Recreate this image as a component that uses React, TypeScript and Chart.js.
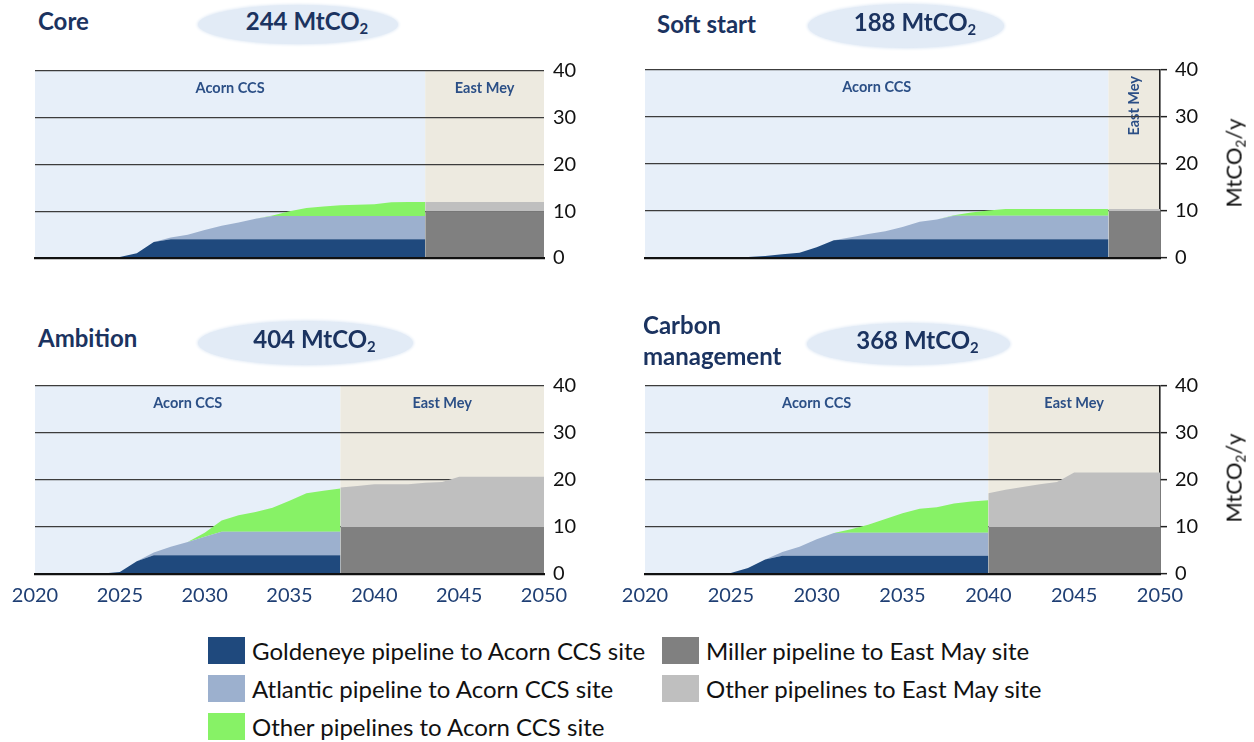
import React, { useEffect, useRef } from "react";
import { Chart, registerables } from "chart.js";

Chart.register(...registerables);

// ---------------- data ----------------
const SERIES_NAMES = [
  "Goldeneye pipeline to Acorn CCS site",
  "Atlantic pipeline to Acorn CCS site",
  "Other pipelines to Acorn CCS site",
  "Miller pipeline to East May site",
  "Other pipelines to East May site",
];
const SERIES_COLORS = ["#1F497D", "#9CB0CE", "#87F266", "#808080", "#BFBFBF"];
const REGION_NAMES = ["Acorn CCS", "East Mey"];
const PANEL_TITLES = [["Core"], ["Soft start"], ["Ambition"], ["Carbon", "management"]];
const PANEL_TOTALS = [244, 188, 404, 368];
const ACORN_END_YEAR = [2043, 2047, 2038, 2040];
const X_TICKS = [2020, 2025, 2030, 2035, 2040, 2045, 2050];
const Y_TICKS = [0, 10, 20, 30, 40];
const Y_TITLE = "MtCO";

const YEARS = [
  2020, 2021, 2022, 2023, 2024, 2025, 2026, 2027, 2028, 2029, 2030,
  2031, 2032, 2033, 2034, 2035, 2036, 2037, 2038, 2039, 2040,
  2041, 2042, 2043, 2044, 2045, 2046, 2047, 2048, 2049, 2050,
];

// Core: Acorn 2020-2043, East Mey 2043-2050
const coreGoldeneye = [0, 0, 0, 0, 0.1, 0.2, 1.0, 3.4, 4, 4, 4, 4, 4, 4, 4, 4, 4, 4, 4, 4, 4, 4, 4, 4];
const coreAtlantic = [0, 0, 0, 0, 0, 0, 0, 0, 0.4, 1.0, 2.0, 2.9, 3.6, 4.4, 5.0, 5, 5, 5, 5, 5, 5, 5, 5, 5];
const coreOtherAcorn = [0, 0, 0, 0, 0, 0, 0, 0, 0, 0, 0, 0, 0, 0, 0.1, 1.0, 1.7, 2.0, 2.3, 2.4, 2.5, 2.9, 3.0, 3.0];
const coreMiller = [10, 10, 10, 10, 10, 10, 10, 10];
const coreOtherEast = [2, 2, 2, 2, 2, 2, 2, 2];

// Soft start: Acorn 2020-2047, East Mey 2047-2050
const softGoldeneye = [0, 0, 0, 0, 0.1, 0.1, 0.2, 0.4, 0.8, 1.1, 2.3, 3.8, 4, 4, 4, 4, 4, 4, 4, 4, 4, 4, 4, 4, 4, 4, 4, 4];
const softAtlantic = [0, 0, 0, 0, 0, 0, 0, 0, 0, 0, 0, 0, 0.4, 1.1, 1.7, 2.6, 3.7, 4.2, 5.0, 5, 5, 5, 5, 5, 5, 5, 5, 5];
const softOtherAcorn = [0, 0, 0, 0, 0, 0, 0, 0, 0, 0, 0, 0, 0, 0, 0, 0, 0, 0, 0.1, 0.7, 1.1, 1.4, 1.4, 1.4, 1.4, 1.4, 1.4, 1.4];
const softMiller = [10, 10, 10, 10];
const softOtherEast = [0.4, 0.4, 0.4, 0.4];

// Ambition: Acorn 2020-2038, East Mey 2038-2050
const ambGoldeneye = [0, 0, 0, 0, 0.1, 0.4, 2.7, 4, 4, 4, 4, 4, 4, 4, 4, 4, 4, 4, 4];
const ambAtlantic = [0, 0, 0, 0, 0, 0, 0, 0.6, 1.8, 2.8, 3.9, 5, 5, 5, 5, 5, 5, 5, 5];
const ambOtherAcorn = [0, 0, 0, 0, 0, 0, 0, 0, 0, 0, 0.9, 2.4, 3.5, 4.2, 5.1, 6.6, 8.2, 8.7, 9.2];
const ambMiller = [10, 10, 10, 10, 10, 10, 10, 10, 10, 10, 10, 10, 10];
const ambOtherEast = [8.4, 8.7, 9.1, 9.1, 9.1, 9.4, 9.6, 10.7, 10.7, 10.7, 10.7, 10.7, 10.7];

// Carbon management: Acorn 2020-2040, East Mey 2040-2050
const cmGoldeneye = [0, 0, 0, 0, 0.05, 0.2, 1.3, 3.1, 3.9, 3.9, 3.9, 3.9, 3.9, 3.9, 3.9, 3.9, 3.9, 3.9, 3.9, 3.9, 3.9];
const cmAtlantic = [0, 0, 0, 0, 0, 0, 0, 0, 0.8, 1.9, 3.5, 4.8, 4.9, 4.9, 4.9, 4.9, 4.9, 4.9, 4.9, 4.9, 4.9];
const cmOtherAcorn = [0, 0, 0, 0, 0, 0, 0, 0, 0, 0, 0, 0, 0.7, 1.7, 2.9, 4.1, 5.1, 5.4, 6.2, 6.6, 6.9];
const cmMiller = [10, 10, 10, 10, 10, 10, 10, 10, 10, 10, 10];
const cmOtherEast = [7.2, 7.9, 8.5, 9.1, 9.6, 11.6, 11.6, 11.6, 11.6, 11.6, 11.6];

const PANEL_SERIES = [
  [coreGoldeneye, coreAtlantic, coreOtherAcorn, coreMiller, coreOtherEast],
  [softGoldeneye, softAtlantic, softOtherAcorn, softMiller, softOtherEast],
  [ambGoldeneye, ambAtlantic, ambOtherAcorn, ambMiller, ambOtherEast],
  [cmGoldeneye, cmAtlantic, cmOtherAcorn, cmMiller, cmOtherEast],
];

// ---------------- styling / layout ----------------
const FONT = "Lato, 'Open Sans', sans-serif";
const ACORN_BG = "#E7EFF9";
const EAST_BG = "#EDEAE0";
const REGION_TEXT = "#2B4F86";
const TITLE_COLOR = "#1B3360";
const GRID_COLOR = "#3C3C3C";
const ELLIPSE_BG = "#E2EBF6";

const LAYOUT = [
  { canvas: { left: 0, top: 50, width: 600, height: 230 }, right: false, bottom: false,
    title: { left: 38, top: 5 }, ellipse: { left: 198, top: 5, width: 200, height: 39 } },
  { canvas: { left: 610, top: 50, width: 644, height: 230 }, right: true, bottom: false,
    title: { left: 657, top: 8 }, ellipse: { left: 808, top: 4, width: 196, height: 44 }, yTitle: 163 },
  { canvas: { left: 0, top: 365, width: 600, height: 255 }, right: false, bottom: true,
    title: { left: 38, top: 322 }, ellipse: { left: 198, top: 321, width: 215, height: 44 } },
  { canvas: { left: 610, top: 365, width: 644, height: 255 }, right: true, bottom: true,
    title: { left: 643, top: 309 }, ellipse: { left: 807, top: 323, width: 203, height: 42 }, yTitle: 478 },
];

const regionPlugin = {
  id: "regions",
  beforeDraw(chart: any, _args: any, opts: any) {
    const { ctx, scales } = chart;
    const x = scales.x, y = scales.y;
    const x0 = x.getPixelForValue(X_TICKS[0]);
    const xb = x.getPixelForValue(opts.end);
    const x1 = x.getPixelForValue(X_TICKS[X_TICKS.length - 1]);
    const yTop = y.getPixelForValue(40);
    const yBot = y.getPixelForValue(0);
    ctx.save();
    ctx.fillStyle = ACORN_BG;
    ctx.fillRect(x0, yTop, xb - x0, yBot - yTop);
    ctx.fillStyle = EAST_BG;
    ctx.fillRect(xb, yTop, x1 - xb, yBot - yTop);
    ctx.font = `bold 14.5px ${FONT}`;
    ctx.fillStyle = REGION_TEXT;
    ctx.textBaseline = "middle";
    const ly = y.getPixelForValue(36.3);
    const spans = [[x0, xb], [xb, x1]];
    spans.forEach(([l, r], i) => {
      const name = REGION_NAMES[i];
      const w = ctx.measureText(name).width;
      const cx = (l + r) / 2;
      if (r - l > w + 12) {
        ctx.textAlign = "center";
        ctx.fillText(name, cx, ly);
      } else {
        ctx.save();
        ctx.translate(cx, yTop + 6);
        ctx.rotate(-Math.PI / 2);
        ctx.textAlign = "right";
        ctx.fillText(name, 0, 0);
        ctx.restore();
      }
    });
    ctx.restore();
  },
};

function Panel({ idx }: { idx: number }) {
  const ref = useRef<HTMLCanvasElement>(null);
  const L = LAYOUT[idx];
  useEffect(() => {
    const end = ACORN_END_YEAR[idx];
    const acornYears = YEARS.filter((v) => v <= end);
    const eastYears = YEARS.filter((v) => v >= end);
    const [g, a, o, m, e] = PANEL_SERIES[idx];
    const c1 = g.map((v, i) => v + a[i]);
    const c2 = c1.map((v, i) => v + o[i]);
    const c4 = m.map((v, i) => v + e[i]);
    const mk = (xs: number[], ys: number[], k: number, fill: any) => ({
      label: SERIES_NAMES[k],
      data: xs.map((xv, i) => ({ x: xv, y: ys[i] })),
      backgroundColor: SERIES_COLORS[k],
      borderColor: "rgba(0,0,0,0)",
      borderWidth: 0,
      pointRadius: 0,
      pointHoverRadius: 0,
      tension: 0,
      fill,
    });
    const datasets = [
      mk(acornYears, g, 0, "origin"),
      mk(acornYears, c1, 1, "-1"),
      mk(acornYears, c2, 2, "-1"),
      mk(eastYears, m, 3, "origin"),
      mk(eastYears, c4, 4, "-1"),
    ];
    const isRight = L.right;
    const isBottom = L.bottom;
    const chart = new Chart(ref.current as HTMLCanvasElement, {
      type: "line",
      data: { datasets } as any,
      plugins: [regionPlugin],
      options: {
        animation: false,
        responsive: false,
        events: [],
        layout: {
          padding: { left: 35, right: 0, top: isBottom ? 21 : 20, bottom: isBottom ? 10 : 12 },
        },
        plugins: {
          legend: { display: false },
          tooltip: { enabled: false },
          regions: { end },
        } as any,
        scales: {
          x: {
            type: "linear",
            min: X_TICKS[0],
            max: X_TICKS[X_TICKS.length - 1],
            afterBuildTicks: (s: any) => { s.ticks = X_TICKS.map((v) => ({ value: v })); },
            afterFit: (s: any) => { s.height = isBottom ? 36 : 10; },
            grid: { display: false, drawTicks: false },
            border: { display: true, color: "#111", width: 2.2, z: 1 } as any,
            ticks: {
              display: isBottom,
              padding: 10,
              maxRotation: 0,
              autoSkip: false,
              color: "#1F3F74",
              font: { family: FONT, size: 20 },
              callback: (v: any) => String(v),
            },
          },
          y: {
            type: "linear",
            position: "right",
            min: 0,
            max: 40,
            afterBuildTicks: (s: any) => { s.ticks = Y_TICKS.map((v) => ({ value: v })); },
            afterFit: (s: any) => { s.width = isRight ? 94 : 56; },
            grid: {
              color: GRID_COLOR,
              lineWidth: 1.3,
              drawTicks: isRight,
              tickLength: 7,
              tickColor: "#222",
              tickWidth: 1.5,
            },
            border: { display: isRight, color: "#222", width: 1.6 },
            ticks: {
              padding: isRight ? 8 : 9,
              color: "#111",
              font: { family: FONT, size: 20 },
            },
          },
        },
      } as any,
    });
    return () => chart.destroy();
  }, [idx]);

  const total = PANEL_TOTALS[idx];
  return (
    <>
      <canvas
        ref={ref}
        width={L.canvas.width}
        height={L.canvas.height}
        style={{ position: "absolute", left: L.canvas.left, top: L.canvas.top, width: L.canvas.width, height: L.canvas.height }}
      />
      <div style={{ position: "absolute", left: L.title.left, top: L.title.top, font: `bold 24px ${FONT}`, lineHeight: "31px", color: TITLE_COLOR, whiteSpace: "nowrap" }}>
        {PANEL_TITLES[idx].map((t, i) => <div key={i}>{t}</div>)}
      </div>
      <div style={{
        position: "absolute", left: L.ellipse.left, top: L.ellipse.top, width: L.ellipse.width, height: L.ellipse.height,
        borderRadius: "50%", background: ELLIPSE_BG, boxShadow: `0 0 3px 1px ${ELLIPSE_BG}`,
        display: "flex", alignItems: "center", justifyContent: "center",
        font: `bold 24px ${FONT}`, color: TITLE_COLOR, whiteSpace: "nowrap",
      }}>
        <span style={{ paddingLeft: 18, lineHeight: "28px" }}>
          {total} {Y_TITLE}<span style={{ fontSize: "0.62em", verticalAlign: "-0.28em" }}>2</span>
        </span>
      </div>
      {L.right && (
        <div style={{
          position: "absolute", left: 1237, top: L.yTitle, transform: "translate(-50%, -50%) rotate(-90deg)",
          font: `22px ${FONT}`, color: "#111", whiteSpace: "nowrap", lineHeight: "24px",
        }}>
          {Y_TITLE}<span style={{ fontSize: "0.62em", verticalAlign: "-0.28em" }}>2</span>/y
        </div>
      )}
    </>
  );
}

const LEGEND_POS = [
  { left: 208, top: 637 },
  { left: 208, top: 675 },
  { left: 208, top: 713 },
  { left: 662, top: 637 },
  { left: 662, top: 675 },
];

export default function App() {
  return (
    <div style={{ position: "absolute", left: 0, top: 0, width: 1254, height: 742, background: "#fff", overflow: "hidden", fontFamily: FONT }}>
      {PANEL_TITLES.map((_, i) => <Panel key={i} idx={i} />)}
      {SERIES_NAMES.map((name, i) => (
        <div key={i} style={{ position: "absolute", left: LEGEND_POS[i].left, top: LEGEND_POS[i].top, display: "flex", alignItems: "center", height: 27 }}>
          <div style={{ width: 37, height: 27, background: SERIES_COLORS[i] }} />
          <div style={{ marginLeft: 7, font: `24px ${FONT}`, color: "#111", whiteSpace: "nowrap", lineHeight: "27px" }}>{name}</div>
        </div>
      ))}
    </div>
  );
}
